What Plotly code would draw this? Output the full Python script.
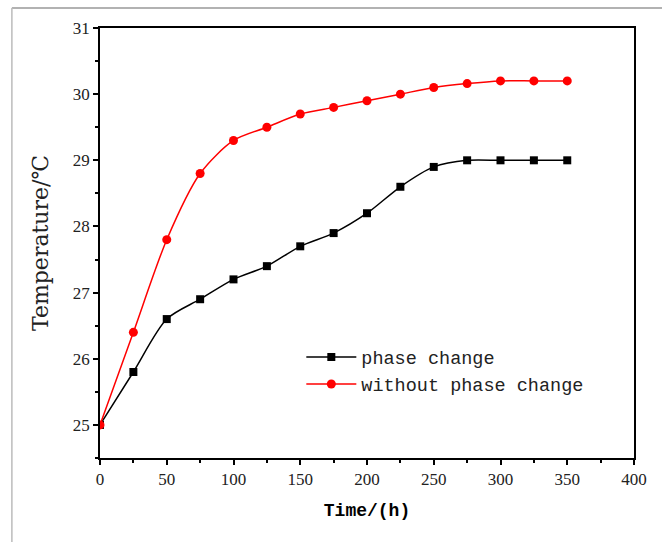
import plotly.graph_objects as go

time_h = [0, 25, 50, 75, 100, 125, 150, 175, 200, 225, 250, 275, 300, 325, 350]
phase_change = [25.0, 25.8, 26.6, 26.9, 27.2, 27.4, 27.7, 27.9, 28.2, 28.6, 28.9, 29.0, 29.0, 29.0, 29.0]
without_phase_change = [25.0, 26.4, 27.8, 28.8, 29.3, 29.5, 29.7, 29.8, 29.9, 30.0, 30.1, 30.16, 30.2, 30.2, 30.2]
x_ticks = [0, 50, 100, 150, 200, 250, 300, 350, 400]
y_ticks = [25, 26, 27, 28, 29, 30, 31]

fig = go.Figure()
fig.add_trace(go.Scatter(
    x=time_h, y=phase_change, name="phase change",
    mode="lines+markers",
    line=dict(color="black", width=1.5, shape="spline", smoothing=0.8),
    marker=dict(symbol="square", size=8, color="black"),
))
fig.add_trace(go.Scatter(
    x=time_h, y=without_phase_change, name="without phase change",
    mode="lines+markers",
    line=dict(color="#ff0000", width=1.5, shape="spline", smoothing=0.8),
    marker=dict(symbol="circle", size=9, color="#ff0000"),
))

axis_common = dict(
    showline=True, linecolor="black", linewidth=1.5, mirror=True,
    ticks="outside", ticklen=5, tickwidth=1.5, tickcolor="black",
    showgrid=False, zeroline=False,
    tickfont=dict(family="Liberation Serif", size=17, color="#222"),
)

fig.update_xaxes(
    range=[0, 400], tickvals=x_ticks,
    title=dict(text="<b>Time/(h)</b>", font=dict(family="Liberation Mono", size=18, color="black"), standoff=15),
    minor=dict(ticks="outside", dtick=25, ticklen=3, tickwidth=1.5, tickcolor="black"),
    **axis_common,
)
fig.update_yaxes(
    range=[24.5, 31], tickvals=y_ticks,
    title=dict(text="Temperature/℃", font=dict(family="DejaVu Serif", size=22, color="#222"), standoff=18),
    minor=dict(ticks="outside", dtick=0.5, tick0=24.5, ticklen=3, tickwidth=1.5, tickcolor="black"),
    **axis_common,
)

fig.update_layout(
    width=662, height=542,
    margin=dict(l=100, r=28, t=28, b=84),
    plot_bgcolor="white", paper_bgcolor="white",
    legend=dict(
        x=0.377, y=0.278, xanchor="left", yanchor="top",
        bgcolor="rgba(0,0,0,0)",
        font=dict(family="Liberation Mono", size=18.5, color="#222"),
        tracegroupgap=0, itemwidth=50,
    ),
    shapes=[
        dict(type="line", xref="paper", yref="paper", x0=-0.165, x1=1.06, y0=1.0465, y1=1.0465,
             line=dict(color="#999999", width=1.5)),
        dict(type="line", xref="paper", yref="paper", x0=-0.165, x1=-0.165, y0=1.0465, y1=-0.2,
             line=dict(color="#bbbbbb", width=1.5)),
    ],
)

fig.write_html("out.html")
